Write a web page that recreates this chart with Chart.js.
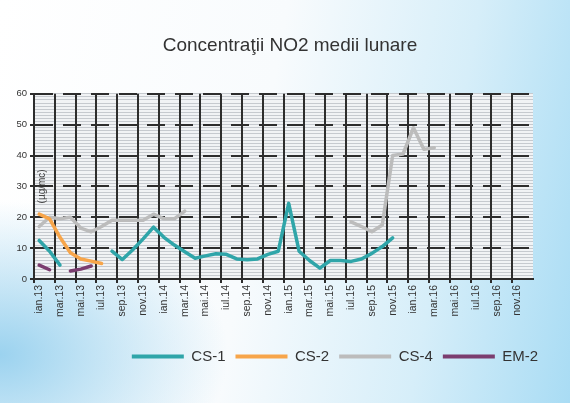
<!DOCTYPE html>
<html>
<head>
<meta charset="utf-8">
<script src="https://cdn.jsdelivr.net/npm/chart.js@4"></script>
<style>
html,body{margin:0;padding:0;}
body{
  width:570px;height:403px;overflow:hidden;
  background:
    radial-gradient(ellipse 40% 38% at 0% 88%, rgba(150,208,238,0.95), rgba(150,208,238,0) 100%),
    linear-gradient(100deg, #ffffff 0%, #f8fbfd 45%, #d6eef9 75%, #a9dcf4 100%);
}
canvas{display:block;}
</style>
</head>
<body>
<canvas id="c" width="570" height="403"></canvas>
<script>
const categories = [
  'ian.13','feb.13','mar.13','apr.13','mai.13','iun.13','iul.13','aug.13','sep.13','oct.13','nov.13','dec.13',
  'ian.14','feb.14','mar.14','apr.14','mai.14','iun.14','iul.14','aug.14','sep.14','oct.14','nov.14','dec.14',
  'ian.15','feb.15','mar.15','apr.15','mai.15','iun.15','iul.15','aug.15','sep.15','oct.15','nov.15','dec.15',
  'ian.16','feb.16','mar.16','apr.16','mai.16','iun.16','iul.16','aug.16','sep.16','oct.16','nov.16','dec.16'
];
const cs1 = [
  12.5, 9, 4.5, null, null, null, null, 9, 6.3, 9.5, 13, 16.8,
  13.5, 11, 8.8, 6.7, 7.5, 8.2, 8, 6.5, 6.2, 6.5, 8, 9,
  24.5, 9, 6, 3.5, 6, 6, 5.7, 6.5, 8.3, 10.5, 13.3, null,
  null, null, null, null, null, null, null, null, null, null, null, null
];
const cs2 = [
  21, 19.5, 13.5, 8.5, 6.5, 5.8, 5, null, null, null, null, null,
  null, null, null, null, null, null, null, null, null, null, null, null,
  null, null, null, null, null, null, null, null, null, null, null, null,
  null, null, null, null, null, null, null, null, null, null, null, null
];
const cs4 = [
  17, 20, 19.5, 20, 16.5, 15.3, 17, 19, 19, 19, 19, 21,
  19.5, 19.5, 22, null, null, null, null, null, null, null, null, null,
  null, null, null, null, null, null, 18.5, 17, 15.3, 17.5, 40, 40.5,
  49, 42, 42.5, null, null, null, null, null, null, null, null, null
];
const em2 = [
  4.5, 3, null, 2.6, 3.2, 4.2, null, null, null, null, null, null,
  null, null, null, null, null, null, null, null, null, null, null, null,
  null, null, null, null, null, null, null, null, null, null, null, null,
  null, null, null, null, null, null, null, null, null, null, null, null
];
const seriesNames = ['CS-1', 'CS-2', 'CS-4', 'EM-2'];
const seriesColors = ['#2fa5a9', '#f7a54a', '#bcbcbc', '#7b3d6f'];
const yTicks = [0, 10, 20, 30, 40, 50, 60];

const FONT = "'Liberation Sans', Arial, sans-serif";
const DARK = '#2d2d2d';

const bgPlugin = {
  id: 'plotBg',
  beforeDraw(chart) {
    const {ctx, chartArea: a} = chart;
    ctx.save();
    ctx.fillStyle = '#f1f3f5';
    ctx.fillRect(a.left, a.top, a.right - a.left, a.bottom - a.top);
    ctx.restore();
  }
};
const shiftPlugin = {
  id: 'shiftBoxes',
  afterLayout(chart) {
    const L = chart.legend; L.left += 50; L.right += 50;
    const T = chart.titleBlock; T.left += 5; T.right += 5;
  }
};

const data = [cs1, cs2, cs4, em2];
new Chart(document.getElementById('c'), {
  type: 'line',
  data: {
    labels: categories,
    datasets: data.map((d, i) => ({
      label: seriesNames[i],
      data: d,
      borderColor: seriesColors[i],
      backgroundColor: seriesColors[i],
      borderWidth: 3.5,
      pointRadius: 0,
      pointHoverRadius: 0,
      tension: 0,
      spanGaps: false,
      borderJoinStyle: 'round',
      borderCapStyle: 'round'
    }))
  },
  options: {
    responsive: false,
    animation: false,
    layout: {padding: {left: 0, right: 0, top: 0, bottom: 29}},
    plugins: {
      title: {
        display: true,
        text: 'Concentraţii NO2 medii lunare',
        color: '#333',
        font: {family: FONT, size: 19, weight: 'normal'},
        padding: {top: 34, bottom: 37}
      },
      legend: {
        position: 'bottom',
        labels: {
          boxWidth: 52, boxHeight: 4, padding: 10,
          color: '#333',
          font: {family: FONT, size: 15},
          generateLabels(chart) {
            const items = Chart.defaults.plugins.legend.labels.generateLabels(chart);
            items.forEach(it => { it.lineWidth = 0; });
            return items;
          }
        }
      },
      tooltip: {enabled: false}
    },
    scales: {
      x: {
        type: 'category',
        offset: true,
        grid: {
          offset: true,
          color: c => (c.index !== undefined && c.index % 2 === 0 && c.index < 48) ? DARK : 'rgba(0,0,0,0)',
          lineWidth: 2,
          tickLength: 4,
          z: -1
        },
        border: {display: true, color: DARK, width: 2},
        ticks: {
          autoSkip: false,
          minRotation: 90, maxRotation: 90,
          padding: 2,
          color: '#333',
          font: {family: FONT, size: 10.5},
          callback(v, i) { return i % 2 === 0 ? categories[i] : ''; }
        },
        afterFit(s) { s.height = 60; }
      },
      y: {
        min: 0, max: 60,
        afterBuildTicks(s) { s.ticks = yTicks.map(v => ({value: v})); },
        grid: {
          color: DARK, lineWidth: 2, tickLength: 4,
          tickBorderDash: [], z: -1
        },
        border: {display: true, color: DARK, width: 2, dash: [18, 10]},
        ticks: {
          padding: 3, color: '#333',
          font: {family: FONT, size: 9.5}
        },
        title: {
          display: true, text: '(µg/mc)', color: '#444',
          font: {family: FONT, size: 10},
          padding: {top: 36, bottom: 0}
        },
        afterFit(s) { s.width = 34; }
      },
      y2: {
        position: 'right',
        min: 0, max: 60,
        ticks: {display: false, stepSize: 1},
        grid: {color: '#c6cacf', lineWidth: 1, drawTicks: false, z: -2},
        border: {display: false},
        afterFit(s) { s.width = 37; }
      }
    }
  },
  plugins: [bgPlugin, shiftPlugin]
});
</script>
</body>
</html>
